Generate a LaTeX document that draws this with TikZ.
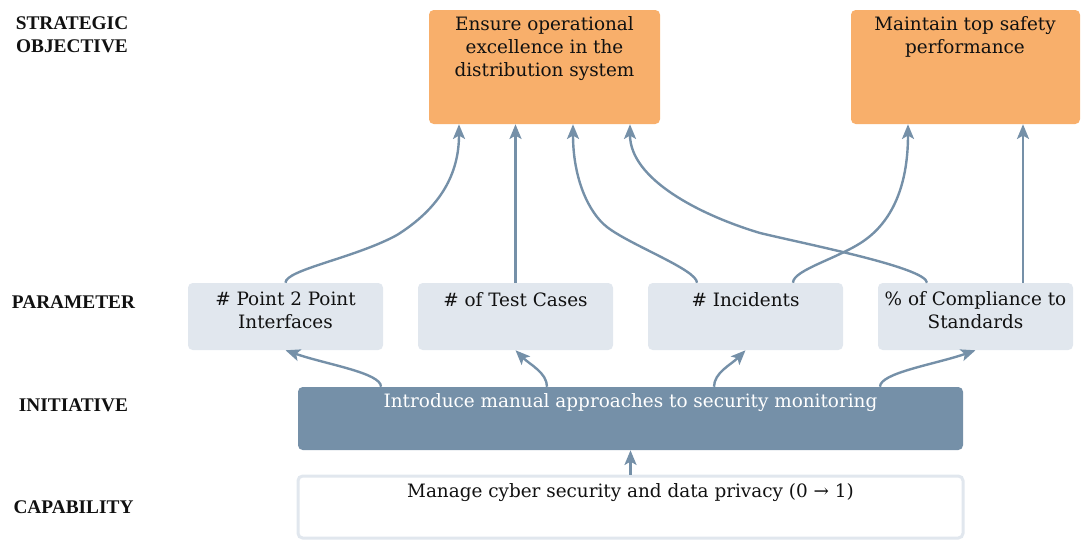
\documentclass[tikz,border=0pt]{standalone}
\usepackage{fontspec}
\setmainfont{DejaVu Serif}
\newfontfamily\tierfont{Liberation Serif}
\usetikzlibrary{arrows.meta,calc,fit}
\definecolor{objfill}{HTML}{F8AF6B}
\definecolor{parfill}{HTML}{E1E7EE}
\definecolor{slate}{HTML}{7590A8}
\definecolor{ink}{HTML}{111111}
\begin{document}
\begin{tikzpicture}[x=0.75pt,y=-0.75pt,
  objbox/.style={fill=objfill, rounded corners=3.5pt, inner sep=0pt},
  parbox/.style={fill=parfill, rounded corners=3.5pt, inner sep=0pt},
  inibox/.style={fill=slate, rounded corners=3.5pt, inner sep=0pt},
  capbox/.style={draw=parfill, line width=2.25pt, fill=white, rounded corners=3.5pt, inner sep=0pt},
  boxtext/.style={font=\fontsize{13.8}{16.9}\selectfont, text=ink, align=center, anchor=base, inner sep=0pt},
  tier/.style={font=\tierfont\bfseries\fontsize{14.5}{17.25}\selectfont, text=ink, align=center, inner sep=0pt},
  arr/.style={draw=slate, line width=1.8pt, -{Stealth[length=11pt,width=9pt,inset=2.5pt]}}]
\useasboundingbox (0,0) rectangle (1082,540);

% tier labels
\node[tier] (tObj) at (72,34.5) {STRATEGIC\\OBJECTIVE};
\node[tier] (tPar) at (73.5,302) {PARAMETER};
\node[tier] (tIni) at (73.5,405) {INITIATIVE};
\node[tier] (tCap) at (73.5,507) {CAPABILITY};

% boxes
\node[objbox, fit={(429,10) (660,124)}] (o1) {};
\node[objbox, fit={(851,10) (1080,124)}] (o2) {};
\node[parbox, fit={(188,283) (383,350)}] (p1) {};
\node[parbox, fit={(418,283) (613,350)}] (p2) {};
\node[parbox, fit={(648,283) (843,350)}] (p3) {};
\node[parbox, fit={(878,283) (1073,350)}] (p4) {};
\node[inibox, fit={(298,387) (963,450)}] (ini) {};
\node[capbox, fit={(298,476) (963,538)}] (cap) {};

% box texts (anchored at the baseline of their last line)
\node[boxtext] (o1t) at (544.5,76) {Ensure operational\\excellence in the\\distribution system};
\node[boxtext] (o2t) at (965,53.5) {Maintain top safety\\performance};
\node[boxtext] (p1t) at (285.5,328) {\# Point 2 Point\\Interfaces};
\node[boxtext] (p2t) at (515.5,306) {\# of Test Cases};
\node[boxtext] (p3t) at (745.5,306) {\# Incidents};
\node[boxtext] (p4t) at (975.5,328) {\% of Compliance to\\Standards};
\node[boxtext, text=white] (init) at (630.5,407) {Introduce manual approaches to security monitoring};
\node[boxtext] (capt) at (630.5,497) {Manage cyber security and data privacy (0 → 1)};

% parameters to objectives
\draw[arr] (p1.north) .. controls +(0,-13) and +(-42,23) .. (397,235)
  .. controls +(43,-27) and +(0,50) .. ($(o1.south)+(-85.5,0)$);
\draw[arr] (p2.north) -- (p2.north |- o1.south);
\draw[arr] ($(p3.north)+(-48.5,0)$) .. controls +(0,-13) and +(23,18) .. (607,227)
  .. controls +(-18,-14) and +(0,55) .. ($(o1.south)+(28.5,0)$);
\draw[arr] ($(p4.north)+(-48.5,0)$) .. controls +(-1,-15) and +(50,12) .. (760,233)
  .. controls +(-60,-18) and +(0,55) .. ($(o1.south)+(85.5,0)$);
\draw[arr] ($(p3.north)+(47.5,0)$) .. controls +(0,-13) and +(-25,18) .. (865,240)
  .. controls +(25,-18) and +(0,65) .. ($(o2.south)+(-57.5,0)$);
\draw[arr] ($(p4.north)+(47.5,0)$) -- ($(o2.south)+(57.5,0)$);

% initiative to parameters
\draw[arr] ($(ini.north)+(-249.5,0)$) .. controls +(0,-14) and +(40,14) .. (p1.south);
\draw[arr] ($(ini.north)+(-83.5,0)$) .. controls +(0,-14) and +(14,14) .. (p2.south);
\draw[arr] ($(ini.north)+(83.5,0)$) .. controls +(0,-14) and +(-14,14) .. (p3.south);
\draw[arr] ($(ini.north)+(249.5,0)$) .. controls +(0,-14) and +(-40,14) .. (p4.south);

% capability to initiative
\draw[arr] (cap.north) -- (ini.south);
\end{tikzpicture}
\end{document}
